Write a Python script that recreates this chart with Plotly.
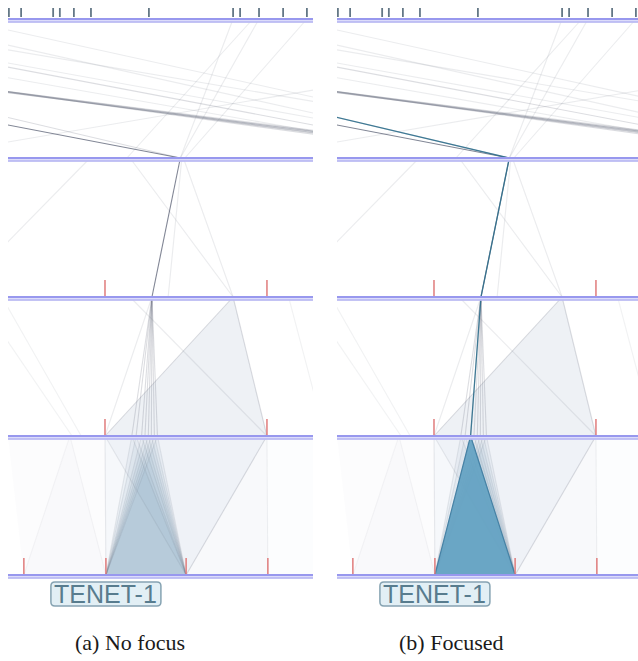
import plotly.graph_objects as go

# ---------------- data ----------------
# Category positions along each horizontal axis (0-100 scale of the visible window)
top_ticks = [0.3, 4.3, 14.8, 17.0, 21.6, 27.2, 46.2, 73.8, 76.1, 82.3, 90.2, 98.0]
mid_ticks = [31.8, 84.9]                 # axes 2 and 3
bottom_ticks = [5.2, 32.1, 58.4, 85.2]   # axis 4

# Links between axis 0 and axis 1: source position, target position, record count
links01_src = [-16.4, -38.4, -80.0, -83.0, -60.0, -110.0,
               -176.0, -181.0, -188.0, -172.0, -184.0, -192.0,
               -181.3, -137.2, 237.0, 73.8, 82.3, 98.0, 80.3]
links01_dst = [191.1, 166.2, 172.8, 157.0, 210.0, 150.0,
               160.0, 166.0, 172.0, 156.0, 164.0, 170.0,
               56.5, 56.5, -30.8, 56.5, 56.5, 58.0, 39.0]
links01_n = [1, 1, 1, 2, 1, 1,
             2, 3, 2, 2, 3, 2,
             8, 2, 1, 1, 1, 1, 1]

# Links between axis 1 and axis 2
links12_src = [56.5, 57.5, 57.0, 40.0, 26.9]
links12_dst = [47.2, 73.8, 52.5, 73.8, -17.7]
links12_n = [8, 1, 1, 1, 1]

# Records fanning into the TENET-1 group
fan_tops = [40.6, 42.0, 43.8, 44.9, 46.0, 47.0, 48.0, 49.0]
fan_root = 47.2
tenet_range = [32.1, 58.4]

# Other links between axis 2 and axis 3
links23_src = [47.2, 40.0, 73.8, 73.8, -10.0, -2.0, 92.0]
links23_dst = [31.8, 84.9, 31.8, 84.9, 21.0, 24.0, 104.0]
links23_n = [1, 1, 2, 2, 0.6, 0.6, 0.6]

# Ribbons between axis 2 and axis 3: source interval, target interval, weight
rib23_src = [[73.8, 73.8]]
rib23_dst = [[31.8, 84.9]]
rib23_n = [2]

# Other links between axis 3 and axis 4
links34_src = [31.8, 31.8, 84.9, 84.9, 20.3, 20.3]
links34_dst = [32.1, 58.4, 58.4, 85.2, 5.2, 32.1]
links34_n = [1, 1, 2, 0.6, 0.3, 0.3]

rib34_src = [[31.8, 84.9], [31.8, 84.9], [20.3, 20.3], [0.0, 31.8], [84.9, 100.0]]
rib34_dst = [[32.1, 58.4], [58.4, 85.2], [5.2, 32.1], [5.2, 32.1], [85.2, 100.0]]
rib34_n = [0.9, 0.8, 0.35, 0.35, 0.3]

# Path of the focused record (positions on axes 0..3)
focus_path = [-137.2, 56.5, 47.2, 43.8]

label_text = "TENET-1"
captions = ["(a) No focus", "(b) Focused"]

# ---------------- layout geometry ----------------
W, H = 638, 661
PX_PER_UNIT = 3.05
AXIS_Y0, AXIS_GAP = 19, 139
N_AXES = 5


def py(p):
    """pixel row -> axis-index coordinate"""
    return (p - AXIS_Y0) / AXIS_GAP


panels = [
    dict(xa="x", dom=[8 / W, 313 / W], rng=[0, 100.0], focus=False),
    dict(xa="x2", dom=[337 / W, 1.0], rng=[0, (W - 337) / PX_PER_UNIT], focus=True),
]

fig = go.Figure()


def gray(n):
    a = min(0.82, 0.03 + 0.095 * n)
    return f"rgba(95,102,120,{a:.3f})"


def add_links(xa, gap, src, dst, n):
    groups = {}
    for s, d, w in zip(src, dst, n):
        groups.setdefault(w, ([], []))
        xs, ys = groups[w]
        xs += [s, d, None]
        ys += [gap, gap + 1, None]
    for w, (xs, ys) in groups.items():
        fig.add_trace(go.Scatter(x=xs, y=ys, xaxis=xa, yaxis="y", mode="lines",
                                 line=dict(color=gray(w), width=1.1),
                                 hoverinfo="skip"))


def add_ribbon(xa, gap, s, d, color, line_color=None, lw=0):
    fig.add_trace(go.Scatter(x=[s[0], s[1], d[1], d[0], s[0]],
                             y=[gap, gap, gap + 1, gap + 1, gap],
                             xaxis=xa, yaxis="y", mode="lines", fill="toself",
                             fillcolor=color,
                             line=dict(color=line_color or "rgba(0,0,0,0)", width=lw),
                             hoverinfo="skip"))


for pnl in panels:
    xa = pnl["xa"]
    x_hi = pnl["rng"][1] if pnl["focus"] else 100.0

    # ribbons (faint fills)
    for s, d, w in zip(rib23_src, rib23_dst, rib23_n):
        add_ribbon(xa, 2, s, d, f"rgba(140,158,190,{0.075 * w:.3f})")
    for s, d, w in zip(rib34_src, rib34_dst, rib34_n):
        add_ribbon(xa, 3, s, d, f"rgba(150,175,205,{0.09 * w:.3f})")
    for t in fan_tops:
        add_ribbon(xa, 3, [t, t], tenet_range, "rgba(110,150,185,0.065)")

    # links
    add_links(xa, 0, links01_src, links01_dst, links01_n)
    add_links(xa, 1, links12_src, links12_dst, links12_n)
    add_links(xa, 2, [fan_root] * len(fan_tops), fan_tops, [2] * len(fan_tops))
    add_links(xa, 2, links23_src, links23_dst, links23_n)
    add_links(xa, 3, fan_tops + fan_tops, [tenet_range[0]] * len(fan_tops) + [tenet_range[1]] * len(fan_tops),
              [1] * (2 * len(fan_tops)))
    add_links(xa, 3, links34_src, links34_dst, links34_n)

    if pnl["focus"]:
        add_ribbon(xa, 3, [focus_path[3], focus_path[3]], tenet_range,
                   "rgba(100,163,195,0.93)", "rgba(70,130,165,1)", 1.2)
        fig.add_trace(go.Scatter(x=focus_path, y=list(range(len(focus_path))),
                                 xaxis=xa, yaxis="y", mode="lines",
                                 line=dict(color="rgba(45,110,140,0.9)", width=1.3),
                                 hoverinfo="skip"))

    # double axis lines
    for i in range(N_AXES):
        fig.add_trace(go.Scatter(x=[0, x_hi], y=[i + py(20.5) - py(19)] * 2, xaxis=xa, yaxis="y",
                                 mode="lines", line=dict(color="#dcdcfa", width=4), hoverinfo="skip"))
        fig.add_trace(go.Scatter(x=[0, x_hi], y=[i, i], xaxis=xa, yaxis="y",
                                 mode="lines", line=dict(color="#9898ee", width=1.8), hoverinfo="skip"))
        fig.add_trace(go.Scatter(x=[0, x_hi], y=[i + py(22) - py(19)] * 2, xaxis=xa, yaxis="y",
                                 mode="lines", line=dict(color="#b4b4f2", width=1.6), hoverinfo="skip"))

    # top axis category ticks
    xs, ys = [], []
    for t in top_ticks:
        xs += [t, t, None]
        ys += [py(8), py(17), None]
    fig.add_trace(go.Scatter(x=xs, y=ys, xaxis=xa, yaxis="y", mode="lines",
                             line=dict(color="#637786", width=1.8), hoverinfo="skip"))

    # red category ticks on the lower axes
    xs, ys = [], []
    for ax_i, ticks in [(2, mid_ticks), (3, mid_ticks), (4, bottom_ticks)]:
        for t in ticks:
            xs += [t, t, None]
            ys += [ax_i - 17 / AXIS_GAP, ax_i - 1 / AXIS_GAP, None]
    fig.add_trace(go.Scatter(x=xs, y=ys, xaxis=xa, yaxis="y", mode="lines",
                             line=dict(color="#e07c7c", width=1.5), hoverinfo="skip"))

    # rounded label box under the TENET-1 group
    cx = tenet_range[0]
    hw = 55 / PX_PER_UNIT
    x0, x1 = cx - hw, cx + hw
    y0, y1 = py(582), py(606)
    rx, ry = 4 / PX_PER_UNIT, 4 / AXIS_GAP
    path = (f"M {x0 + rx},{y0} L {x1 - rx},{y0} Q {x1},{y0} {x1},{y0 + ry} "
            f"L {x1},{y1 - ry} Q {x1},{y1} {x1 - rx},{y1} L {x0 + rx},{y1} "
            f"Q {x0},{y1} {x0},{y1 - ry} L {x0},{y0 + ry} Q {x0},{y0} {x0 + rx},{y0} Z")
    fig.add_shape(type="path", path=path, xref=xa, yref="y",
                  fillcolor="#e2eff5", line=dict(color="#86a3b2", width=1.5), layer="above")
    fig.add_annotation(x=cx, y=py(594), xref=xa, yref="y", text=label_text, showarrow=False,
                       font=dict(family="Liberation Sans", size=25, color="#587c8e"),
                       xanchor="center", yanchor="middle")

# captions
for txt, cxp in zip(captions, [130, 451]):
    fig.add_annotation(x=cxp / W, y=1 - 642 / H, xref="paper", yref="paper", text=txt,
                       showarrow=False, font=dict(family="Liberation Serif", size=22, color="#1a1a1a"),
                       xanchor="center", yanchor="middle")

yr = [(H - AXIS_Y0) / AXIS_GAP, -AXIS_Y0 / AXIS_GAP]
fig.update_layout(
    width=W, height=H, margin=dict(l=0, r=0, t=0, b=0),
    paper_bgcolor="white", plot_bgcolor="white", showlegend=False,
    xaxis=dict(domain=panels[0]["dom"], range=panels[0]["rng"], visible=False, anchor="y", fixedrange=True),
    xaxis2=dict(domain=panels[1]["dom"], range=panels[1]["rng"], visible=False, anchor="y", fixedrange=True),
    yaxis=dict(domain=[0, 1], range=yr, visible=False, fixedrange=True),
)

fig.write_html("out.html")
